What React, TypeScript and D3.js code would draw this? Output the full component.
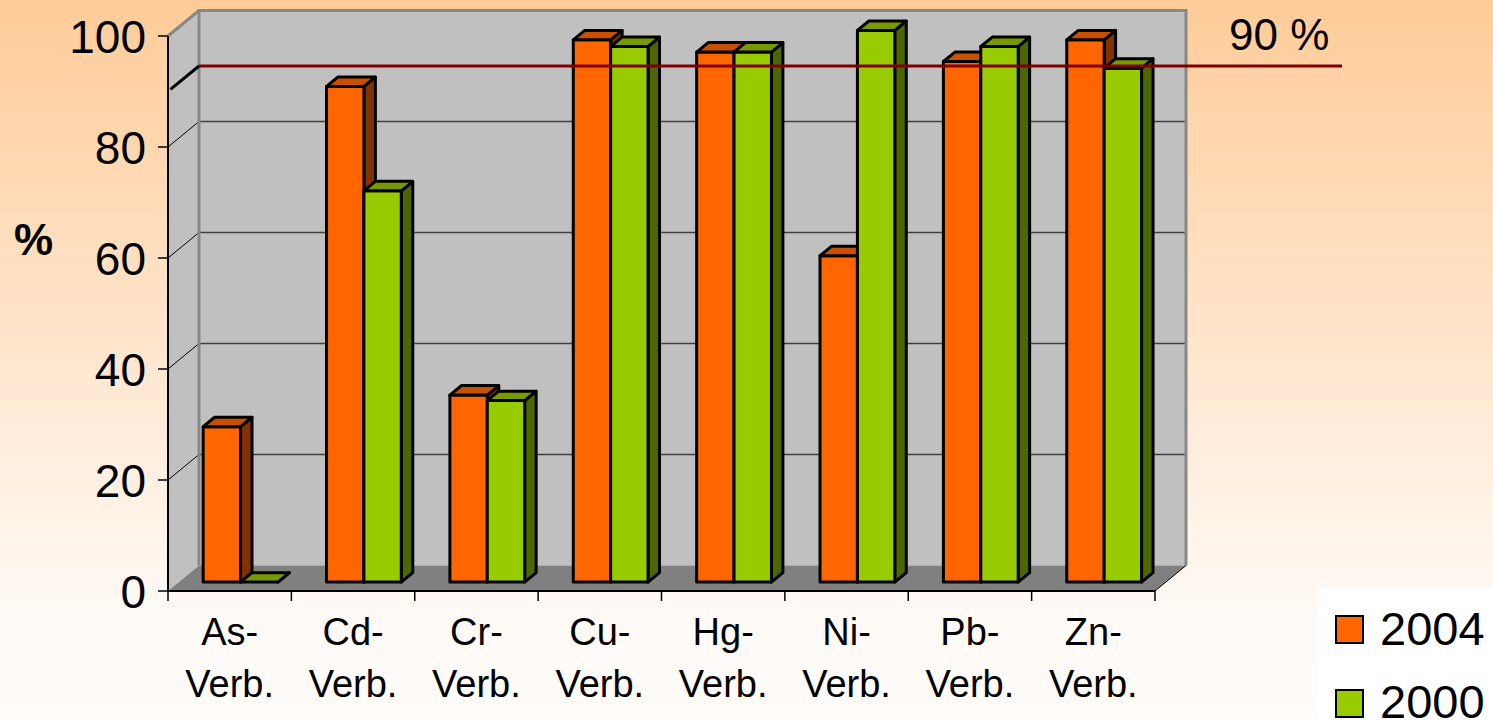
import React from 'react';
import * as d3 from 'd3';

const categories = ['As-', 'Cd-', 'Cr-', 'Cu-', 'Hg-', 'Ni-', 'Pb-', 'Zn-'];
const categorySuffix = 'Verb.';
const series = ['2004', '2000'];
const values2004 = [28, 89.3, 33.7, 97.7, 95.5, 58.8, 93.8, 97.7];
const values2000 = [0, 70.5, 32.7, 96.5, 95.5, 99.4, 96.5, 92.6];
const yTicks = [0, 20, 40, 60, 80, 100];
const target = 90;
const targetLabel = '90 %';

const W = 1493;
const H = 722;
const FONT = '"Liberation Sans", Arial, sans-serif';

// depth offset of the whole plot box (oblique projection)
const DX = 31;
const DY = -25.5;
const F0 = 0.35; // bar front depth
const F1 = 0.72; // bar back depth

const colors: Record<string, { front: string; top: string; side: string }> = {
  '2004': { front: '#FF6600', top: '#C85000', side: '#803300' },
  '2000': { front: '#99CC00', top: '#789A00', side: '#4C6600' },
};

export default function App() {
  const x0 = d3.scaleBand<string>().domain(categories).range([168, 1155]);
  const x1 = d3.scaleBand<string>().domain(series).range([0, x0.bandwidth()]).paddingOuter(0.65);
  const y = d3.scaleLinear().domain([0, 100]).range([591, 36]);

  const pt = (px: number, py: number, f: number) => `${px + f * DX},${py + f * DY}`;

  const [xl, xr] = x0.range();
  const y0 = y(0);
  const yTop = y(100);

  const bars: React.ReactNode[] = [];
  categories.forEach((c, i) => {
    series.forEach((s, j) => {
      const v = (j === 0 ? values2004 : values2000)[i];
      const a = x0(c)! + x1(s)!;
      const b = a + x1.bandwidth();
      const yt = y(v);
      const col = colors[s];
      const st = { stroke: '#000', strokeWidth: 3, strokeLinejoin: 'round' as const };
      bars.push(
        <g key={`${c}-${s}`}>
          <polygon points={[pt(b, yt, F0), pt(b, yt, F1), pt(b, y0, F1), pt(b, y0, F0)].join(' ')} fill={col.side} {...st} />
          {v > 0 && (
            <polygon points={[pt(a, yt, F0), pt(b, yt, F0), pt(b, y0, F0), pt(a, y0, F0)].join(' ')} fill={col.front} {...st} />
          )}
          <polygon points={[pt(a, yt, F0), pt(a, yt, F1), pt(b, yt, F1), pt(b, yt, F0)].join(' ')} fill={col.top} {...st} />
        </g>
      );
    });
  });

  return (
    <svg width={W} height={H} style={{ position: 'absolute', left: 0, top: 0 }} fontFamily={FONT}>
      <defs>
        <linearGradient id="bg" x1="0" y1="0" x2="0" y2="1">
          <stop offset="0" stopColor="#FFCC99" />
          <stop offset="0.85" stopColor="#FFFAF6" />
          <stop offset="1" stopColor="#FFFCFA" />
        </linearGradient>
      </defs>
      <rect width={W} height={H} fill="url(#bg)" />

      {/* walls */}
      <polygon points={[pt(xl, yTop, 0), pt(xl, yTop, 1), pt(xl, y0, 1), pt(xl, y0, 0)].join(' ')} fill="#C0C0C0" />
      <rect x={xl + DX} y={yTop + DY} width={xr - xl} height={y0 - yTop} fill="#C0C0C0" />
      <polygon points={[pt(xl, y0, 0), pt(xr, y0, 0), pt(xr, y0, 1), pt(xl, y0, 1)].join(' ')} fill="#808080" />

      {/* gridlines */}
      {yTicks.filter(t => t > 0 && t < 100).map(t => (
        <g key={t}>
          <line x1={xl + DX} x2={xr + DX} y1={y(t) + DY} y2={y(t) + DY} stroke="#404040" strokeWidth={1.5} />
          <line x1={xl} y1={y(t)} x2={xl + DX} y2={y(t) + DY} stroke="#000" strokeWidth={1} />
        </g>
      ))}

      {/* wall borders */}
      <polyline points={[pt(xl, y0, 1), pt(xl, yTop, 1), pt(xr, yTop, 1), pt(xr, y0, 1)].join(' ')} fill="none" stroke="#888" strokeWidth={3} />
      <line x1={xl} y1={yTop} x2={xl + DX} y2={yTop + DY} stroke="#888" strokeWidth={3} />
      <line x1={xr} y1={y0} x2={xr + DX} y2={y0 + DY} stroke="#000" strokeWidth={1} />

      {bars}

      {/* axes */}
      <line x1={xl} x2={xl} y1={yTop} y2={y0} stroke="#000" strokeWidth={2} />
      <line x1={xl} x2={xr} y1={y0} y2={y0} stroke="#000" strokeWidth={2} />
      {yTicks.map(t => (
        <g key={t}>
          <line x1={xl - 10} x2={xl} y1={y(t)} y2={y(t)} stroke="#000" strokeWidth={1.5} />
          <text x={146} y={y(t) + 16.5} textAnchor="end" fontSize={46}>{t}</text>
        </g>
      ))}
      {d3.range(categories.length + 1).map(i => {
        const px = xl + i * x0.step();
        return <line key={i} x1={px} x2={px} y1={y0} y2={y0 + 10} stroke="#000" strokeWidth={1.5} />;
      })}
      {categories.map(c => {
        const cx = x0(c)! + x0.bandwidth() / 2;
        return (
          <text key={c} x={cx} fontSize={38} textAnchor="middle">
            <tspan x={cx} y={645}>{c}</tspan>
            <tspan x={cx} y={697}>{categorySuffix}</tspan>
          </text>
        );
      })}
      <text x={14} y={255} fontSize={44} fontWeight="bold">%</text>

      {/* 90 % line */}
      <line x1={xl + 0.08 * DX} y1={y(target) + 0.08 * DY} x2={xl + DX} y2={y(target) + DY} stroke="#000" strokeWidth={3} />
      <line x1={xl + DX} x2={1342} y1={y(target) + DY} y2={y(target) + DY} stroke="#800000" strokeWidth={3} />
      <text x={1229} y={50} fontSize={44}>{targetLabel}</text>

      {/* legend */}
      <rect x={1318} y={588} width={W - 1318} height={H - 588} fill="#FFFFFF" />
      {series.map((s, i) => (
        <g key={s}>
          <rect x={1336} y={616 + i * 74} width={27} height={27} fill={colors[s].front} stroke="#000" strokeWidth={2} />
          <text x={1380} y={645 + i * 73} fontSize={47}>{s}</text>
        </g>
      ))}
    </svg>
  );
}
